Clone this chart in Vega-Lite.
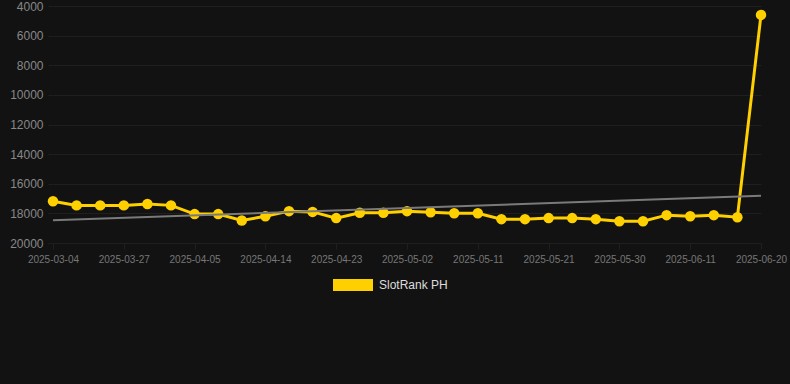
{
  "$schema": "https://vega.github.io/schema/vega-lite/v6.json",
  "width": 708,
  "height": 237,
  "autosize": {"type": "none"},
  "padding": {"left": 53, "top": 6, "right": 29, "bottom": 141},
  "background": "#121212",
  "config": {
    "view": {"stroke": null},
    "font": "Liberation Sans",
    "axis": {"gridColor": "#1f1f1f", "gridWidth": 1, "domain": false, "tickColor": "#1f1f1f", "labelOverlap": false, "labelFlush": false}
  },
  "datasets": {
    "ranks": [
      {"date": "2025-03-04", "rank": 17180, "series": "SlotRank PH"},
      {"date": "2025-03-12", "rank": 17460, "series": "SlotRank PH"},
      {"date": "2025-03-20", "rank": 17460, "series": "SlotRank PH"},
      {"date": "2025-03-27", "rank": 17460, "series": "SlotRank PH"},
      {"date": "2025-03-30", "rank": 17370, "series": "SlotRank PH"},
      {"date": "2025-04-02", "rank": 17460, "series": "SlotRank PH"},
      {"date": "2025-04-05", "rank": 18050, "series": "SlotRank PH"},
      {"date": "2025-04-08", "rank": 18050, "series": "SlotRank PH"},
      {"date": "2025-04-11", "rank": 18480, "series": "SlotRank PH"},
      {"date": "2025-04-14", "rank": 18190, "series": "SlotRank PH"},
      {"date": "2025-04-17", "rank": 17850, "series": "SlotRank PH"},
      {"date": "2025-04-20", "rank": 17900, "series": "SlotRank PH"},
      {"date": "2025-04-23", "rank": 18320, "series": "SlotRank PH"},
      {"date": "2025-04-26", "rank": 17960, "series": "SlotRank PH"},
      {"date": "2025-04-29", "rank": 17960, "series": "SlotRank PH"},
      {"date": "2025-05-02", "rank": 17850, "series": "SlotRank PH"},
      {"date": "2025-05-05", "rank": 17920, "series": "SlotRank PH"},
      {"date": "2025-05-08", "rank": 17990, "series": "SlotRank PH"},
      {"date": "2025-05-11", "rank": 17990, "series": "SlotRank PH"},
      {"date": "2025-05-14", "rank": 18390, "series": "SlotRank PH"},
      {"date": "2025-05-18", "rank": 18390, "series": "SlotRank PH"},
      {"date": "2025-05-21", "rank": 18320, "series": "SlotRank PH"},
      {"date": "2025-05-24", "rank": 18320, "series": "SlotRank PH"},
      {"date": "2025-05-27", "rank": 18390, "series": "SlotRank PH"},
      {"date": "2025-05-30", "rank": 18530, "series": "SlotRank PH"},
      {"date": "2025-06-03", "rank": 18530, "series": "SlotRank PH"},
      {"date": "2025-06-07", "rank": 18120, "series": "SlotRank PH"},
      {"date": "2025-06-11", "rank": 18190, "series": "SlotRank PH"},
      {"date": "2025-06-14", "rank": 18120, "series": "SlotRank PH"},
      {"date": "2025-06-17", "rank": 18260, "series": "SlotRank PH"},
      {"date": "2025-06-20", "rank": 4600, "series": "SlotRank PH"}
    ],
    "trend": [
      {"date": "2025-03-04", "trend": 18460},
      {"date": "2025-06-20", "trend": 16817}
    ]
  },
  "layer": [
    {
      "data": {"name": "ranks"},
      "mark": {"type": "line", "strokeWidth": 3, "point": {"filled": true, "size": 110, "opacity": 1}},
      "encoding": {
        "x": {
          "field": "date",
          "type": "ordinal",
          "sort": "ascending",
          "scale": {"type": "point", "padding": 0},
          "axis": {
            "title": null,
            "labelAngle": 0,
            "labelFontSize": 10,
            "labelColor": "#777777",
            "labelPadding": 5,
            "tickSize": 6,
            "values": ["2025-03-04", "2025-03-27", "2025-04-05", "2025-04-14", "2025-04-23", "2025-05-02", "2025-05-11", "2025-05-21", "2025-05-30", "2025-06-11", "2025-06-20"]
          }
        },
        "y": {
          "field": "rank",
          "type": "quantitative",
          "scale": {"domain": [4000, 20000], "reverse": true, "nice": false, "zero": false},
          "axis": {
            "title": null,
            "format": "d",
            "values": [4000, 6000, 8000, 10000, 12000, 14000, 16000, 18000, 20000],
            "labelFontSize": 12,
            "labelColor": "#888888",
            "labelBaseline": "middle",
            "tickSize": 5,
            "labelPadding": 5
          }
        },
        "color": {
          "field": "series",
          "type": "nominal",
          "scale": {"range": ["#FFD000"]},
          "legend": {
            "title": null,
            "orient": "none",
            "legendX": 280,
            "legendY": 259,
            "symbolType": "M-1,-0.3H1V0.3H-1Z",
            "symbolSize": 1600,
            "symbolStrokeWidth": 0,
            "symbolFillColor": "#FFD000",
            "labelColor": "#dddddd",
            "labelFontSize": 12,
            "labelOffset": 6
          }
        }
      }
    },
    {
      "data": {"name": "trend"},
      "mark": {"type": "line", "color": "#7a7a7a", "strokeWidth": 2},
      "encoding": {
        "x": {
          "field": "date",
          "type": "ordinal",
          "axis": {
            "title": null,
            "labelAngle": 0,
            "labelFontSize": 10,
            "labelColor": "#777777",
            "labelPadding": 5,
            "tickSize": 6,
            "values": ["2025-03-04", "2025-03-27", "2025-04-05", "2025-04-14", "2025-04-23", "2025-05-02", "2025-05-11", "2025-05-21", "2025-05-30", "2025-06-11", "2025-06-20"]
          }
        },
        "y": {
          "field": "trend",
          "type": "quantitative",
          "axis": {
            "title": null,
            "format": "d",
            "values": [4000, 6000, 8000, 10000, 12000, 14000, 16000, 18000, 20000],
            "labelFontSize": 12,
            "labelColor": "#888888",
            "labelBaseline": "middle",
            "tickSize": 5,
            "labelPadding": 5
          }
        }
      }
    }
  ]
}
